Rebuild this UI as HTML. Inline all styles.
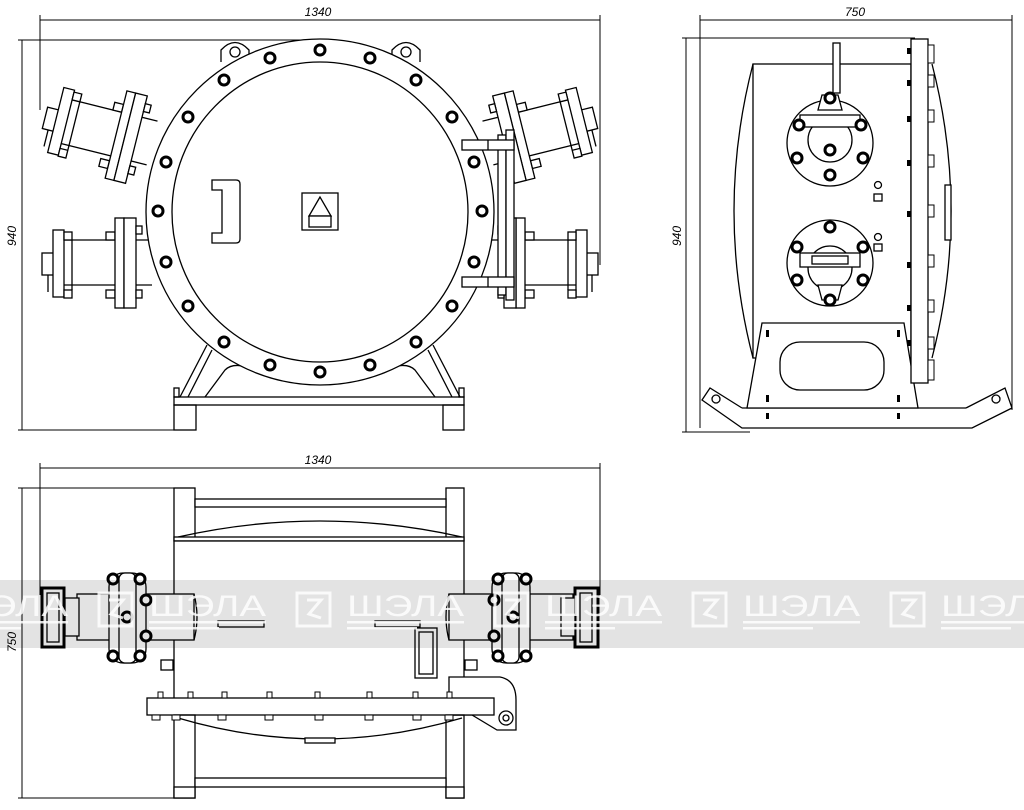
<!DOCTYPE html>
<html><head><meta charset="utf-8"><style>
html,body{margin:0;padding:0;background:#fff;width:1024px;height:810px;overflow:hidden}
svg{display:block}
text{font-family:"Liberation Sans",sans-serif}
</style></head><body>
<svg width="1024" height="810" viewBox="0 0 1024 810" xmlns="http://www.w3.org/2000/svg">
<defs>
<g id="pipeL" fill="#fff" stroke="#000" stroke-width="1.3">
  <line x1="60" y1="240" x2="152" y2="240"/><line x1="60" y1="285" x2="152" y2="285"/>
  <rect x="42" y="253" width="12" height="22"/>
  <rect x="53" y="230" width="11" height="67"/>
  <rect x="64" y="232" width="8" height="8"/><rect x="64" y="290" width="8" height="8"/>
  <line x1="72" y1="240" x2="72" y2="290"/>
  <rect x="106" y="232" width="9" height="8"/><rect x="106" y="290" width="9" height="8"/>
  <rect x="115" y="218" width="9" height="90"/><rect x="124" y="218" width="12" height="90"/>
  <rect x="136" y="226" width="6" height="8"/><rect x="136" y="290" width="6" height="8"/>
  <line x1="48" y1="275" x2="48" y2="292"/>
</g>
<g id="bolt"><circle r="5" fill="#fff" stroke="#000" stroke-width="3"/></g>
<g id="wm">
  <rect x="0" y="13" width="33" height="33" fill="none" stroke="#fff" stroke-width="3"/>
  <path d="M10 20 L24 20 L12 34 L24 38" fill="none" stroke="#fff" stroke-width="3"/>
  <text x="50" y="36" font-size="30" fill="#fff" textLength="117" lengthAdjust="spacingAndGlyphs">ШЭЛА</text>
  <rect x="50" y="41" width="117" height="2.5" fill="#fff"/>
  <rect x="50" y="47" width="70" height="2.5" fill="#fff"/>
</g>
</defs>

<g stroke="#000" stroke-width="1" fill="none">
  <line x1="40" y1="20" x2="600" y2="20"/><line x1="40" y1="15" x2="40" y2="110"/><line x1="600" y1="15" x2="600" y2="265"/>
  <line x1="22" y1="40" x2="22" y2="430"/><line x1="18" y1="40" x2="320" y2="40"/><line x1="18" y1="430" x2="180" y2="430"/>
  <line x1="700" y1="20" x2="1012" y2="20"/><line x1="700" y1="15" x2="700" y2="428"/><line x1="1012" y1="15" x2="1012" y2="410"/>
  <line x1="686" y1="38" x2="686" y2="432"/><line x1="682" y1="38" x2="915" y2="38"/><line x1="682" y1="432" x2="750" y2="432"/>
  <line x1="40" y1="468" x2="600" y2="468"/><line x1="40" y1="463" x2="40" y2="595"/><line x1="600" y1="463" x2="600" y2="595"/>
  <line x1="22" y1="488" x2="22" y2="798"/><line x1="18" y1="488" x2="178" y2="488"/><line x1="18" y1="798" x2="178" y2="798"/>
</g>
<g font-size="12" font-style="italic" fill="#000">
  <text x="318" y="16" text-anchor="middle">1340</text>
  <text x="855" y="16" text-anchor="middle">750</text>
  <text x="318" y="464" text-anchor="middle">1340</text>
  <text transform="translate(16,236) rotate(-90)" text-anchor="middle">940</text>
  <text transform="translate(681,236) rotate(-90)" text-anchor="middle">940</text>
  <text transform="translate(16,642) rotate(-90)" text-anchor="middle">750</text>
</g>

<g fill="none" stroke="#000" stroke-width="1.3">
  <line x1="207" y1="345" x2="180" y2="397"/><line x1="212" y1="350" x2="188" y2="397"/>
  <line x1="433" y1="345" x2="460" y2="397"/><line x1="428" y1="350" x2="452" y2="397"/>
  <path d="M205 397 L225 370 Q235 360 260 372 L380 372 Q405 360 415 370 L435 397"/>
  <rect x="174" y="397" width="290" height="8" fill="#fff"/>
  <rect x="174" y="388" width="5" height="9"/><rect x="459" y="388" width="5" height="9"/>
  <rect x="174" y="405" width="22" height="25"/><rect x="443" y="405" width="21" height="25"/>
  <path d="M221 62 L221 50 Q235 35 249 50 L249 62" fill="#fff"/><circle cx="235" cy="52" r="5"/>
  <path d="M392 62 L392 50 Q406 35 420 50 L420 62" fill="#fff"/><circle cx="406" cy="52" r="5"/>
</g>
<use href="#pipeL"/>
<use href="#pipeL" transform="translate(0,-120) rotate(14 150 263)"/>
<use href="#pipeL" transform="translate(640,0) scale(-1,1)"/>
<use href="#pipeL" transform="translate(640,0) scale(-1,1) translate(0,-120) rotate(14 150 263)"/>
<g fill="#fff" stroke="#000" stroke-width="1.3">
  <ellipse cx="320" cy="212" rx="174" ry="173"/>
  <ellipse cx="320" cy="212" rx="148" ry="150"/>
  <rect x="498" y="135" width="8" height="160"/><rect x="506" y="130" width="8" height="170"/>
  <rect x="462" y="140" width="52" height="10"/><rect x="462" y="277" width="52" height="10"/>
  <line x1="488" y1="140" x2="488" y2="150"/><line x1="488" y1="277" x2="488" y2="287"/>
  <path d="M212 180 L236 180 Q240 180 240 184 L240 239 Q240 243 236 243 L212 243 L212 233 L222 233 L222 190 L212 190 Z"/>
  <rect x="302" y="193" width="36" height="37"/>
  <path d="M320 197 L309 216 L331 216 Z"/><rect x="309" y="216" width="22" height="11"/>
</g>
<g>
  <use href="#bolt" x="320" y="50"/><use href="#bolt" x="270" y="58"/><use href="#bolt" x="370" y="58"/>
  <use href="#bolt" x="224" y="80"/><use href="#bolt" x="416" y="80"/><use href="#bolt" x="188" y="117"/>
  <use href="#bolt" x="452" y="117"/><use href="#bolt" x="166" y="162"/><use href="#bolt" x="474" y="162"/>
  <use href="#bolt" x="158" y="211"/><use href="#bolt" x="482" y="211"/><use href="#bolt" x="166" y="262"/>
  <use href="#bolt" x="474" y="262"/><use href="#bolt" x="188" y="306"/><use href="#bolt" x="452" y="306"/>
  <use href="#bolt" x="224" y="342"/><use href="#bolt" x="416" y="342"/><use href="#bolt" x="270" y="365"/>
  <use href="#bolt" x="370" y="365"/><use href="#bolt" x="320" y="372"/>
</g>

<g fill="#fff" stroke="#000" stroke-width="1.3">
  <path d="M753 64 Q715 211 753 358"/>
  <path d="M932 64 Q970 211 932 358"/>
  <rect x="753" y="64" width="158" height="294"/>
  <rect x="833" y="43" width="7" height="50"/>
  <polyline points="742,408 710,388 702,400 742,428 972,428 1012,408 1005,388 966,408" fill="none"/>
  <line x1="742" y1="408" x2="966" y2="408"/>
  <circle cx="716" cy="399" r="4"/><circle cx="996" cy="399" r="4"/>
  <path d="M762 323 L904 323 L918 408 L747 408 Z"/>
  <rect x="780" y="342" width="104" height="48" rx="20"/>
  <rect x="911" y="39" width="17" height="344"/>
  <rect x="945" y="185" width="6" height="55"/>
  <circle cx="830" cy="143" r="43"/><circle cx="830" cy="263" r="43"/>
  <circle cx="830" cy="140" r="22"/><circle cx="830" cy="268" r="22"/>
  <rect x="800" y="115" width="60" height="12"/>
  <rect x="800" y="253" width="60" height="14"/><rect x="812" y="256" width="36" height="8"/>
  <path d="M822 95 L838 95 L842 110 L818 110 Z"/>
  <path d="M822 300 L838 300 L842 285 L818 285 Z"/>
  <rect x="874" y="194" width="8" height="7"/><rect x="874" y="244" width="8" height="7"/>
  <circle cx="878" cy="185" r="3.5"/><circle cx="878" cy="237" r="3.5"/>
</g>
<g fill="#000">
  <rect x="766" y="330" width="3" height="7"/><rect x="897" y="330" width="3" height="7"/>
  <rect x="766" y="395" width="3" height="7"/><rect x="897" y="395" width="3" height="7"/>
  <rect x="766" y="413" width="3" height="6"/><rect x="897" y="413" width="3" height="6"/>
  <rect x="907" y="48" width="4" height="6"/><rect x="907" y="80" width="4" height="6"/><rect x="907" y="116" width="4" height="6"/>
  <rect x="907" y="160" width="4" height="6"/><rect x="907" y="211" width="4" height="6"/><rect x="907" y="262" width="4" height="6"/>
  <rect x="907" y="305" width="4" height="6"/><rect x="907" y="340" width="4" height="6"/>
</g>
<g fill="#fff" stroke="#000" stroke-width="1">
  <rect x="928" y="45" width="6" height="18"/><rect x="928" y="75" width="6" height="12"/><rect x="928" y="110" width="6" height="12"/>
  <rect x="928" y="155" width="6" height="12"/><rect x="928" y="205" width="6" height="12"/><rect x="928" y="255" width="6" height="12"/>
  <rect x="928" y="300" width="6" height="12"/><rect x="928" y="337" width="6" height="12"/><rect x="928" y="360" width="6" height="20"/>
</g>
<g>
  <use href="#bolt" x="799" y="125"/><use href="#bolt" x="861" y="125"/><use href="#bolt" x="797" y="158"/><use href="#bolt" x="863" y="158"/>
  <use href="#bolt" x="830" y="175"/><use href="#bolt" x="830" y="98"/><use href="#bolt" x="830" y="150"/>
  <use href="#bolt" x="797" y="247"/><use href="#bolt" x="863" y="247"/><use href="#bolt" x="797" y="280"/><use href="#bolt" x="863" y="280"/>
  <use href="#bolt" x="830" y="227"/><use href="#bolt" x="830" y="300"/>
</g>

<g fill="#fff" stroke="#000" stroke-width="1.3">
  <rect x="174" y="488" width="21" height="52"/><rect x="446" y="488" width="18" height="52"/>
  <rect x="195" y="499" width="251" height="8"/>
  <path d="M178 537 Q320 505 462 537" fill="none"/>
  <rect x="174" y="537" width="290" height="4"/>
  <rect x="174" y="541" width="290" height="160"/>
  <rect x="77" y="594" width="117" height="46"/>
  <rect x="449" y="594" width="124" height="46"/>
  <path d="M194 594 Q200 617 194 640" fill="none"/><path d="M449 594 Q443 617 449 640" fill="none"/>
  <rect x="42" y="588" width="22" height="59" stroke-width="3"/><rect x="47" y="593" width="12" height="49"/>
  <rect x="575" y="588" width="23" height="59" stroke-width="3"/><rect x="580" y="593" width="12" height="49"/>
  <rect x="65" y="598" width="14" height="38"/><rect x="561" y="598" width="14" height="38"/>
  <rect x="109" y="573" width="37" height="90" rx="14"/><rect x="119" y="573" width="17" height="90" rx="6"/>
  <rect x="492" y="573" width="38" height="90" rx="14"/><rect x="502" y="573" width="17" height="90" rx="6"/>
  <rect x="218" y="621" width="46" height="6"/><rect x="375" y="621" width="45" height="6"/>
  <rect x="415" y="628" width="22" height="50"/><rect x="419" y="632" width="14" height="42"/>
  <rect x="161" y="660" width="12" height="10"/><rect x="465" y="660" width="12" height="10"/>
  <path d="M449 677 L500 677 Q516 680 516 700 L516 730 L497 730 L472 715 L449 715 Z"/>
  <rect x="147" y="698" width="347" height="17"/>
  <circle cx="506" cy="718" r="7"/><circle cx="506" cy="718" r="3"/>
  <path d="M178 718 Q320 760 462 718" fill="none"/>
  <rect x="305" y="738" width="30" height="5"/>
  <rect x="174" y="715" width="21" height="83" fill="none"/><rect x="446" y="715" width="18" height="83" fill="none"/>
  <rect x="195" y="778" width="251" height="9"/>
  <rect x="174" y="787" width="21" height="11"/><rect x="446" y="787" width="18" height="11"/>
</g>
<g fill="#fff" stroke="#000" stroke-width="1">
  <rect x="158" y="692" width="5" height="6"/><rect x="188" y="692" width="5" height="6"/><rect x="222" y="692" width="5" height="6"/>
  <rect x="267" y="692" width="5" height="6"/><rect x="315" y="692" width="5" height="6"/><rect x="367" y="692" width="5" height="6"/>
  <rect x="413" y="692" width="5" height="6"/><rect x="447" y="692" width="5" height="6"/>
  <rect x="152" y="715" width="8" height="5"/><rect x="172" y="715" width="8" height="5"/><rect x="218" y="715" width="8" height="5"/>
  <rect x="265" y="715" width="8" height="5"/><rect x="315" y="715" width="8" height="5"/><rect x="365" y="715" width="8" height="5"/>
  <rect x="413" y="715" width="8" height="5"/><rect x="445" y="715" width="8" height="5"/>
</g>
<g>
  <use href="#bolt" x="113" y="579"/><use href="#bolt" x="140" y="579"/><use href="#bolt" x="113" y="656"/><use href="#bolt" x="140" y="656"/>
  <use href="#bolt" x="127" y="617"/><use href="#bolt" x="146" y="600"/><use href="#bolt" x="146" y="636"/>
  <use href="#bolt" x="498" y="579"/><use href="#bolt" x="526" y="579"/><use href="#bolt" x="498" y="656"/><use href="#bolt" x="526" y="656"/>
  <use href="#bolt" x="513" y="617"/><use href="#bolt" x="494" y="600"/><use href="#bolt" x="494" y="636"/>
</g>

<rect x="0" y="580" width="1024" height="68" fill="#000" fill-opacity="0.11"/>
<g opacity="0.85">
  <use href="#wm" x="-99" y="580"/><use href="#wm" x="99" y="580"/><use href="#wm" x="297" y="580"/>
  <use href="#wm" x="495" y="580"/><use href="#wm" x="693" y="580"/><use href="#wm" x="891" y="580"/>
</g>
</svg>
</body></html>
